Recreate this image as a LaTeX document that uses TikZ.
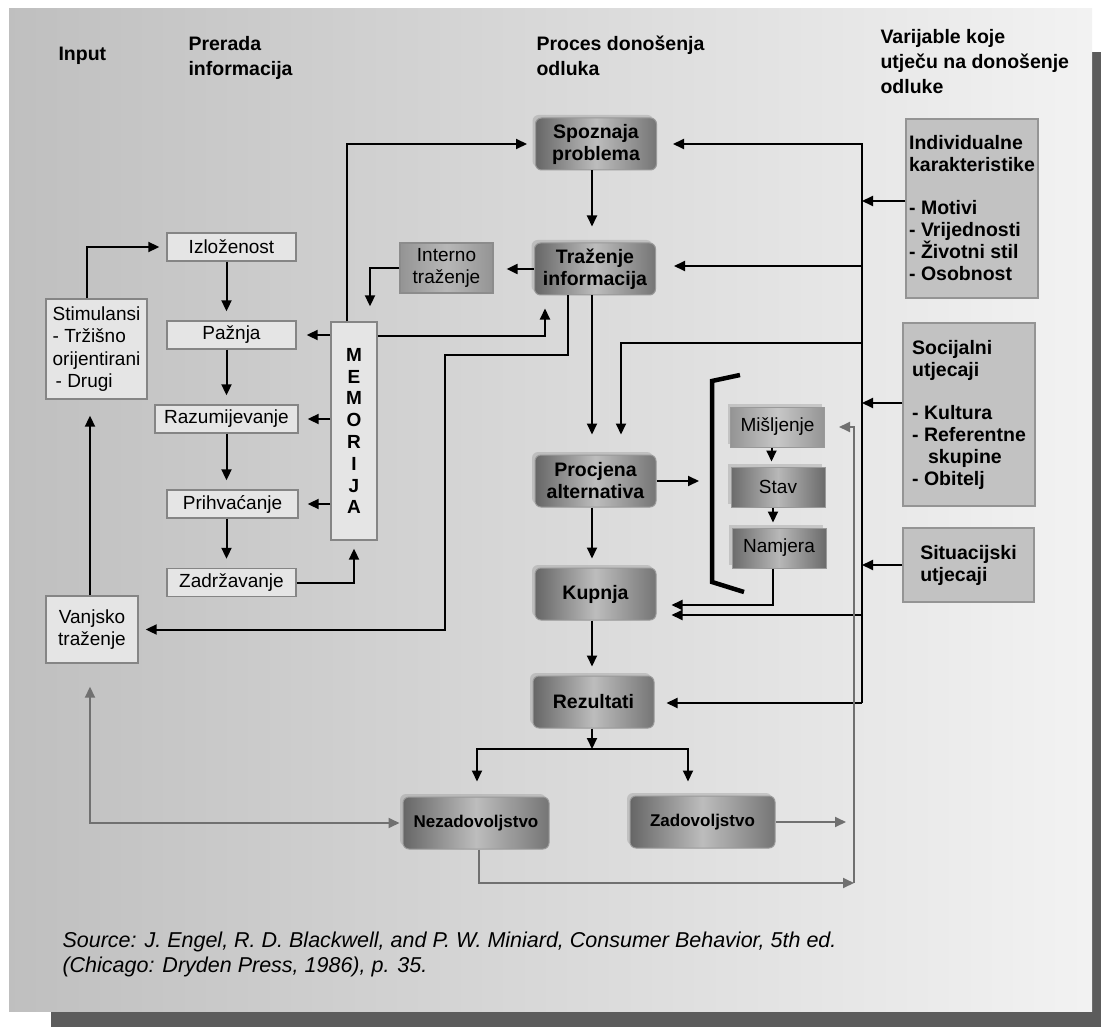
\documentclass[tikz,border=0pt]{standalone}
\usepackage{fontspec}
\setmainfont{Liberation Sans}
\usetikzlibrary{arrows.meta,shadows}

\begin{document}
\begin{tikzpicture}[x=1pt,y=-1pt,
    >={Triangle[length=11pt,width=10pt]},
    arr/.style={->,draw=black,line width=2pt},
    garr/.style={->,draw=black!56,line width=1.8pt}]
\useasboundingbox (0,0) rectangle (1101,1027);
\fill[black!64] (51,52) rectangle (1101,1027);
\shade[left color=black!25,right color=black!5] (9,9) rectangle (1092,1011);
\begin{scope}[every node/.style={anchor=west,align=left,
              font=\bfseries\fontsize{19.5}{25}\selectfont}]
    \node (hin) at (55,56) {Input};
    \node (hpre) at (185,58) {Prerada\\informacija};
    \node (hpro) at (533,56) {Proces donošenja\\odluka};
    \node (hvar) at (877,62) {Varijable koje\\utječu na donošenje\\odluke};
\end{scope}
\begin{scope}[every node/.style={draw=black!48,line width=1.4pt,fill=black!10,
              inner sep=0pt,minimum height=28pt,
              font=\fontsize{19}{22.5}\selectfont}]
    \node[minimum width=129pt] (izl) at (231.5,247) {Izloženost};
    \node[minimum width=129pt] (paz) at (231.5,335) {Pažnja};
    \node[minimum width=143pt] (raz) at (226.5,419) {Razumijevanje};
    \node[minimum width=131pt] (pri) at (232.5,504) {Prihvaćanje};
    \node[minimum width=129pt] (zad) at (231.5,582.5) {Zadržavanje};
    \node[minimum width=101pt,minimum height=100pt,align=left] (stim) at (96.5,349)
        {Stimulansi\\- Tržišno\\orijentirani\\\hspace*{3pt}- Drugi};
    \node[minimum width=92pt,minimum height=67pt,align=center] (vanj) at (92,629.5)
        {Vanjsko\\traženje};
    \node[minimum width=46pt,minimum height=218pt,align=center,
          font=\bfseries\fontsize{19}{21.8}\selectfont] (mem) at (354,431)
        {M\\E\\M\\O\\R\\I\\J\\A};
\end{scope}
\node[draw=black!45,line width=1.2pt,left color=black!42,right color=black!42,
      middle color=black!28,minimum width=93pt,minimum height=50pt,inner sep=0pt,
      align=center,font=\fontsize{19}{22}\selectfont] (int) at (446.5,268)
    {Interno\\traženje};
\begin{scope}[every node/.style={draw=black!40,line width=1pt,rounded corners=6pt,
              left color=black!60,right color=black!54,middle color=black!26,
              drop shadow={shadow xshift=-3pt,shadow yshift=3pt,opacity=.3},
              minimum width=121pt,minimum height=52pt,inner sep=0pt,align=center,
              font=\bfseries\fontsize{19.5}{22}\selectfont}]
    \node (spoz) at (596,144) {Spoznaja\\problema};
    \node (traz) at (595,269) {Traženje\\informacija};
    \node (proc) at (595.5,481) {Procjena\\alternativa};
    \node (kup) at (595.5,594) {Kupnja};
    \node (rez) at (593.5,702) {Rezultati};
    \node[minimum width=146pt,font=\bfseries\fontsize{17}{20}\selectfont] (nez)
        at (476,823) {Nezadovoljstvo};
    \node[minimum width=145pt,font=\bfseries\fontsize{17}{20}\selectfont] (zadv)
        at (702.5,822) {Zadovoljstvo};
\end{scope}
\begin{scope}[every node/.style={draw=black!40,line width=1pt,
              left color=black!58,right color=black!58,middle color=black!28,
              drop shadow={shadow xshift=-3pt,shadow yshift=3pt,opacity=.3},
              minimum width=94pt,minimum height=40pt,inner sep=0pt,
              font=\fontsize{19}{22}\selectfont}]
    \node[left color=black!42,right color=black!42,middle color=black!22] (mis)
        at (777.5,427) {Mišljenje};
    \node (stav) at (778,487) {Stav};
    \node (nam) at (779,548) {Namjera};
\end{scope}
\begin{scope}[every node/.style={draw=black!42,line width=1.4pt,fill=black!24,
              inner sep=0pt,align=left,font=\bfseries\fontsize{19.5}{22}\selectfont}]
    \node[minimum width=132pt,minimum height=179pt] (ind) at (972,208.5)
        {Individualne\\karakteristike\\[21pt]- Motivi\\- Vrijednosti\\- Životni stil\\- Osobnost};
    \node[minimum width=132pt,minimum height=183pt] (soc) at (969,414.5)
        {Socijalni\\utjecaji\\[21pt]- Kultura\\- Referentne\\\hspace*{16pt}skupine\\- Obitelj};
    \node[minimum width=131pt,minimum height=74pt] (sit) at (968.5,565)
        {Situacijski\\utjecaji};
\end{scope}
\node[anchor=west,align=left,font=\itshape\fontsize{21.5}{25}\selectfont] (src)
    at (59,954.5)
    {Source: J. Engel, R. D. Blackwell, and P. W. Miniard, Consumer Behavior, 5th ed.\\
     (Chicago: Dryden Press, 1986), p. 35.};
\coordinate (col) at (592,0);
\coordinate (bb) at (862,703);
\coordinate (pin) at (862,343);
\coordinate (tv) at (445,355);
\coordinate (split) at (592,749);
\coordinate (gb) at (854,883);
\coordinate (zend) at (846,822);
\coordinate (brt) at (740,375);
\coordinate (brl) at (712,381);
\coordinate (brb) at (712,582);
\coordinate (bre) at (744,592);
\draw[line width=4.5pt] (brt) -- (brl) -- (brb) -- (bre);
\begin{scope}[line cap=butt]
    \draw[arr,shorten >=7pt] ([xshift=-9.5pt]stim.north) |- (izl.west);
    \draw[arr,shorten >=9pt] (izl.south -| raz) -- (paz.north -| raz);
    \draw[arr,shorten >=9pt] (paz.south -| raz) -- (raz.north);
    \draw[arr,shorten >=9pt] (raz.south) -- (pri.north -| raz);
    \draw[arr,shorten >=9pt] (pri.south -| raz) -- (zad.north -| raz);
    \draw[arr,shorten >=10pt] (mem.west |- paz) -- (paz.east);
    \draw[arr,shorten >=9pt] (mem.west |- raz) -- (raz.east);
    \draw[arr,shorten >=9pt] (mem.west |- pri) -- (pri.east);
    \draw[arr,shorten >=8pt] (zad.east) -| (mem.south);
    \draw[arr,shorten >=8pt] ([xshift=-7pt]mem.north) |- (spoz.west);
    \draw[arr,shorten >=16pt] ([xshift=-6.5pt]stim.south |- vanj.north) -- ([xshift=-6.5pt]stim.south);
    \draw[arr,shorten >=16pt] (spoz.south -| col) -- (traz.north -| col);
    \draw[arr,shorten >=13pt] (traz.west) -- (traz.west -| int.east);
    \draw[arr,shorten >=15pt] (int.west) -| ([xshift=16pt]mem.north);
    \draw[arr,shorten >=13pt] ([yshift=-15pt]mem.north east) -| ([xshift=-50pt]traz.south);
    \draw[arr,shorten >=7pt] ([xshift=-27pt]traz.south) |- (tv) |- (vanj.east);
    \draw[arr,shorten >=20pt] (traz.south -| col) -- (proc.north -| col);
    \draw[arr,shorten >=20pt] (pin) -| ([xshift=25.5pt]proc.north);
    \draw[arr,shorten >=13pt] (proc.east) -- (proc.east -| brl);
    \draw[arr,shorten >=9pt] (proc.south -| col) -- (kup.north -| col);
    \draw[arr,shorten >=9pt] (kup.south -| col) -- (rez.north -| col);
    \draw[arr] (rez.south -| col) -- (split);
    \draw[arr,<->,shorten <=15pt,shorten >=14pt] ([xshift=1pt]nez.north) |- (split)
        -| ([xshift=-14.5pt]zadv.north);
    \draw[arr,shorten >=5pt] ([xshift=-6pt]mis.south) -- ([xshift=-6pt]mis.south |- stav.north);
    \draw[arr,shorten >=5pt] ([xshift=-5pt]stav.south) -- ([xshift=-5pt]stav.south |- nam.north);
    \draw[arr,shorten >=15pt] ([xshift=-6pt]nam.south) |- ([yshift=-11pt]kup.east);
    \draw[arr,shorten >=16pt] (bb) |- (spoz.east);
    \draw[arr,shorten >=18pt] ([yshift=3pt]traz.east -| bb) -- ([yshift=3pt]traz.east);
    \draw[arr,shorten >=15pt] ([yshift=-21pt]kup.east -| bb) -- ([yshift=-21pt]kup.east);
    \draw[arr,shorten >=12pt] (bb) -- (bb -| rez.east);
    \draw[arr] ([yshift=7.5pt]ind.west) -- ([yshift=7.5pt]ind.west -| bb);
    \draw[arr] ([yshift=11.5pt]soc.west) -- ([yshift=11.5pt]soc.west -| bb);
    \draw[arr] (sit.west) -- (sit.west -| bb);
    \draw[garr,<->,shorten <=23pt,shorten >=3pt] ([xshift=-2pt]vanj.south) |- (nez.west);
    \draw[garr] (zadv.east) -- (zend);
    \draw[garr] ([xshift=3pt]nez.south) |- (gb);
    \draw[garr,shorten >=14pt] (gb) |- (mis.east);
\end{scope}
\end{tikzpicture}
\end{document}
